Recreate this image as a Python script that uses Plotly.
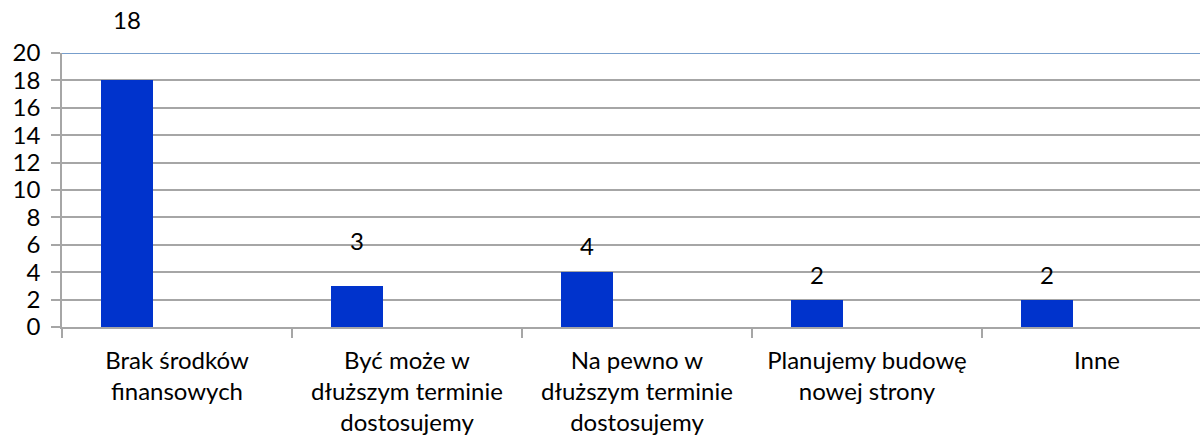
import plotly.graph_objects as go

categories = [
    "Brak środków<br>finansowych",
    "Być może w<br>dłuższym terminie<br>dostosujemy",
    "Na pewno w<br>dłuższym terminie<br>dostosujemy",
    "Planujemy budowę<br>nowej strony",
    "Inne",
]
values = [18, 3, 4, 2, 2]
y_ticks = [0, 2, 4, 6, 8, 10, 12, 14, 16, 18, 20]
# pixel lift of each value label above its bar top, as drawn in the source
label_lift = [61, 45, 27, 25, 25]

FONT = "Lato"
FSIZE = 24
BAR_COLOR = "#0033CC"
GRID = "#A6A6A6"

x_pos = list(range(len(categories)))
bar_offset = -0.330
bar_width = 0.226

fig = go.Figure()
fig.add_trace(go.Bar(
    x=x_pos, y=values,
    offset=bar_offset, width=bar_width,
    marker=dict(color=BAR_COLOR, line=dict(width=0)),
    hoverinfo="x+y",
))

for xi, v, lift in zip(x_pos, values, label_lift):
    fig.add_annotation(
        x=xi + bar_offset + bar_width / 2, y=v, yshift=lift, text=str(v),
        showarrow=False, xref="x", yref="y",
        font=dict(family=FONT, size=FSIZE, color="black"),
        xanchor="center", yanchor="middle",
    )

# blue top border line at max value
fig.add_shape(type="line", xref="paper", yref="y", x0=0, x1=1, y0=20, y1=20,
              line=dict(color="#4A7EBB", width=1.5), layer="above")

fig.update_layout(
    width=1200, height=439,
    margin=dict(l=62, r=0, t=53, b=112),
    plot_bgcolor="white", paper_bgcolor="white",
    showlegend=False,
    font=dict(family=FONT, size=FSIZE, color="black"),
    xaxis=dict(
        range=[-0.5, 4.448], automargin=False,
        tickvals=x_pos, ticktext=categories,
        ticks="", showgrid=False, zeroline=False,
        showline=True, linecolor=GRID, linewidth=1.5,
        tickfont=dict(family=FONT, size=FSIZE, color="black"),
        minor=dict(tick0=-0.5, dtick=1, ticks="outside", ticklen=9,
                   tickcolor=GRID, tickwidth=1.5, showgrid=False),
        ticklabelstandoff=11,
    ),
    yaxis=dict(
        range=[0, 20], tickvals=y_ticks, automargin=False,
        showgrid=True, gridcolor=GRID, gridwidth=1.5,
        zeroline=False,
        showline=True, linecolor=GRID, linewidth=1.5,
        ticks="outside", ticklen=9, tickcolor=GRID, tickwidth=1.5,
        tickfont=dict(family=FONT, size=FSIZE, color="black"),
        ticklabelstandoff=6,
    ),
    bargap=0,
)

fig.write_html(
    "out.html",
    config={"displayModeBar": False},
    post_script="document.body.style.margin='0';document.body.style.overflow='hidden';",
)
